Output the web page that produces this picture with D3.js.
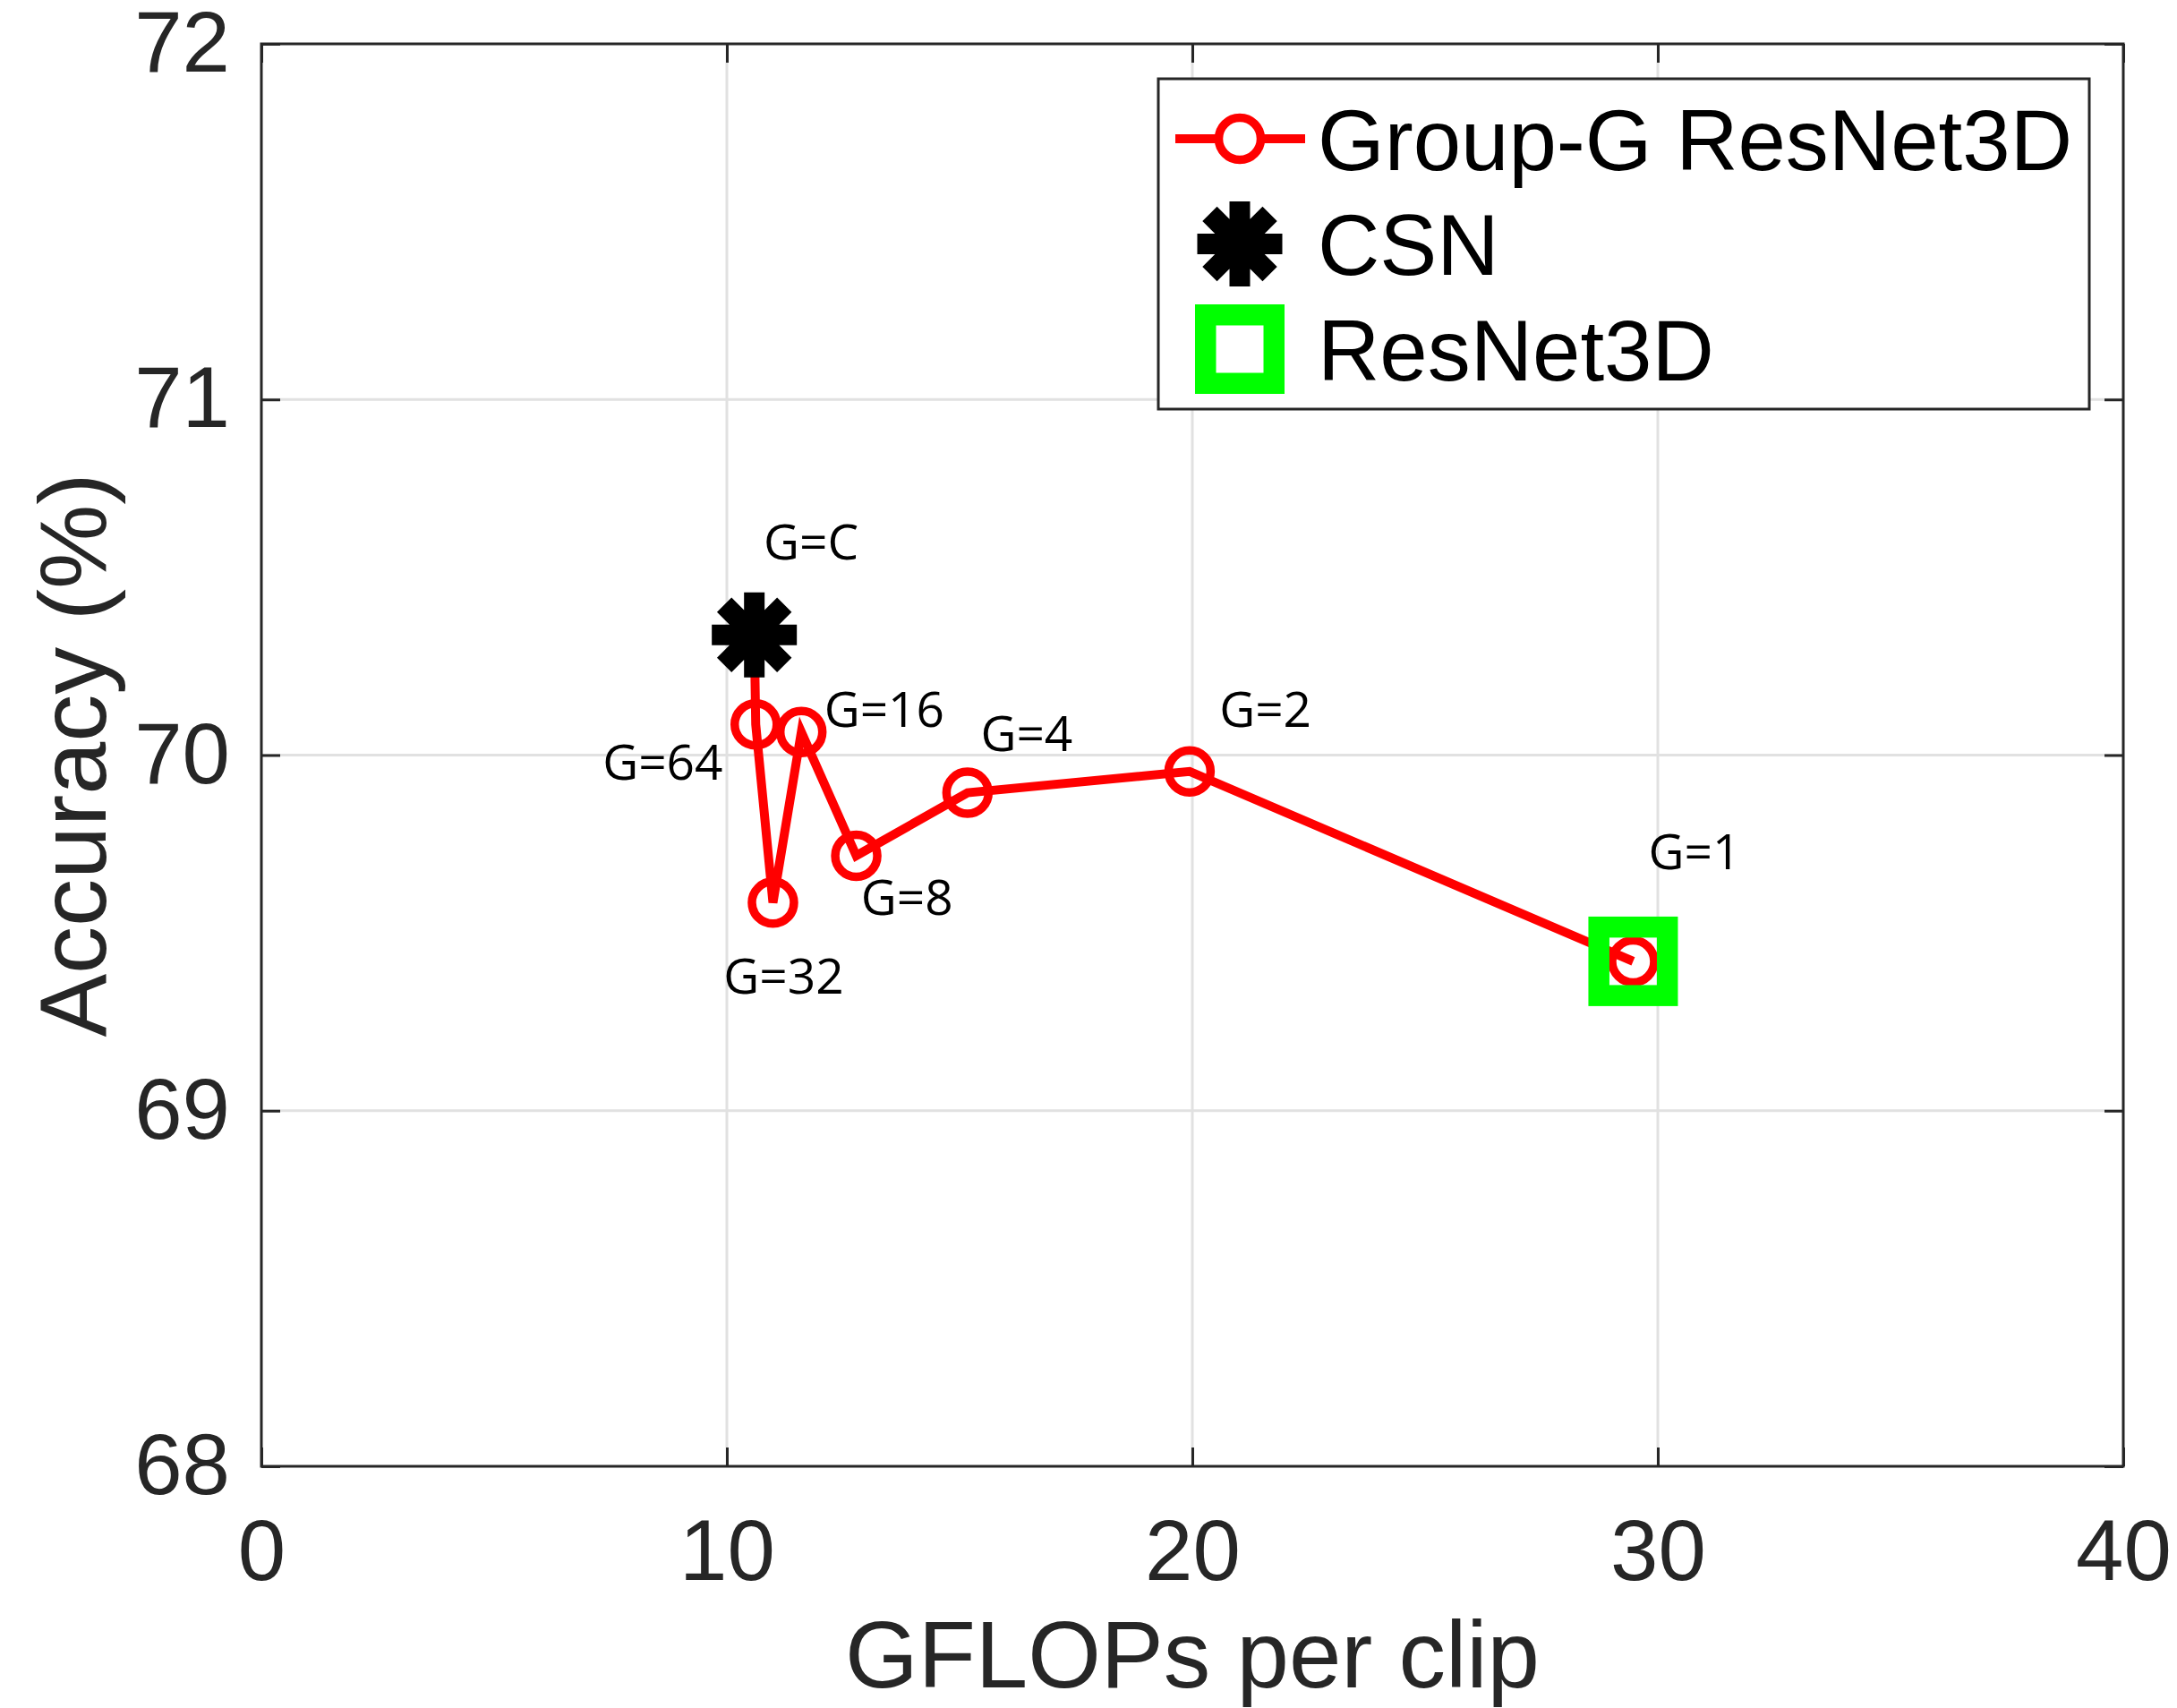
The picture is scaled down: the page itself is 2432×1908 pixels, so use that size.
<!DOCTYPE html>
<html><head><meta charset="utf-8">
<script src="https://cdn.jsdelivr.net/npm/d3@7"></script>
<style>
  html, body { margin: 0; background: #fff; }
  svg { display: block; }
</style>
</head><body>
<svg id="chart" width="2432" height="1908"></svg>
<script>
// Group-G ResNet3D sweep (G=C is the channel-separated end point)
const groupLabels = ["G=C", "G=64", "G=32", "G=16", "G=8", "G=4", "G=2", "G=1"];
const groupGflops = [10.59, 10.62, 10.99, 11.60, 12.78, 15.17, 19.94, 29.47];
const groupAcc    = [70.338, 70.086, 69.585, 70.065, 69.717, 69.894, 69.954, 69.420];
// reference models
const csnGflops = [10.59];
const csnAcc    = [70.338];
const resnetGflops = [29.47];
const resnetAcc    = [69.42];
// annotation anchors (left edge, vertical middle), data units
const labelGflops = [10.79, 7.33, 9.93, 12.09, 12.88, 15.45, 20.58, 29.80];
const labelAcc    = [70.60, 69.98, 69.38, 70.13, 69.60, 70.06, 70.13, 69.73];
// axes
const xTicks = [0, 10, 20, 30, 40];
const yTicks = [68, 69, 70, 71, 72];
const legendNames = ["Group-G ResNet3D", "CSN", "ResNet3D"];

const W = 2432, H = 1908;
const plot = { left: 292, top: 49, right: 2372, bottom: 1638 };
const RED = "#ff0000", GREEN = "#00ff00", INK = "#262626";
const tickFont = "'Liberation Sans', Arial, Helvetica, sans-serif";
const noteFont = "'Open Sans', 'Noto Sans', sans-serif";

const svg = d3.select("#chart");
svg.append("rect").attr("width", W).attr("height", H).attr("fill", "#fff");

const x = d3.scaleLinear().domain([0, 40]).range([plot.left, plot.right]);
const y = d3.scaleLinear().domain([68, 72]).range([plot.bottom, plot.top]);

// grid
const grid = svg.append("g").attr("stroke", "#e1e1e1").attr("stroke-width", 3);
grid.selectAll("line.gx").data(xTicks.slice(1, -1)).join("line")
  .attr("x1", d => x(d)).attr("x2", d => x(d))
  .attr("y1", plot.top).attr("y2", plot.bottom);
grid.selectAll("line.gy").data(yTicks.slice(1, -1)).join("line")
  .attr("y1", d => y(d)).attr("y2", d => y(d))
  .attr("x1", plot.left).attr("x2", plot.right);

// axes with inward ticks on all four sides
const tickLen = 21;
function styleAxis(g) {
  g.select(".domain").remove();
  g.selectAll(".tick line").attr("stroke", INK).attr("stroke-width", 3);
  g.selectAll(".tick text").attr("fill", INK)
    .style("font-family", tickFont).style("font-size", "96px");
}
svg.append("g").attr("transform", `translate(0,${plot.bottom})`)
  .call(d3.axisBottom(x).tickValues(xTicks).tickFormat(d3.format("d"))
        .tickSizeInner(-tickLen).tickSizeOuter(0).tickPadding(59))
  .call(styleAxis);
svg.append("g").attr("transform", `translate(0,${plot.top})`)
  .call(d3.axisTop(x).tickValues(xTicks).tickFormat("")
        .tickSizeInner(-tickLen).tickSizeOuter(0))
  .call(styleAxis);
svg.append("g").attr("transform", `translate(${plot.left},0)`)
  .call(d3.axisLeft(y).tickValues(yTicks).tickFormat(d3.format("d"))
        .tickSizeInner(-tickLen).tickSizeOuter(0).tickPadding(35))
  .call(styleAxis);
svg.append("g").attr("transform", `translate(${plot.right},0)`)
  .call(d3.axisRight(y).tickValues(yTicks).tickFormat("")
        .tickSizeInner(-tickLen).tickSizeOuter(0))
  .call(styleAxis);

// frame
svg.append("rect")
  .attr("x", plot.left).attr("y", plot.top)
  .attr("width", plot.right - plot.left).attr("height", plot.bottom - plot.top)
  .attr("fill", "none").attr("stroke", INK).attr("stroke-width", 3);

// axis titles
svg.append("text")
  .attr("x", (plot.left + plot.right) / 2).attr("y", 1885)
  .attr("text-anchor", "middle").attr("fill", INK)
  .style("font-family", tickFont).style("font-size", "105px")
  .text("GFLOPs per clip");
svg.append("text")
  .attr("transform", `translate(118,${(plot.top + plot.bottom) / 2}) rotate(-90)`)
  .attr("text-anchor", "middle").attr("fill", INK)
  .style("font-family", tickFont).style("font-size", "106px")
  .text("Accuracy (%)");

// markers
const circleR = 23.5, circleW = 9.5;
const starHalf = 47.5, starW = 23;
const squareSide = 76.5, squareW = 23.5;
function starPath(h) {
  const d = h / Math.SQRT2;
  return `M${-h},0H${h}M0,${-h}V${h}M${-d},${-d}L${d},${d}M${-d},${d}L${d},${-d}`;
}

const groupPts = groupGflops.map((g, i) => ({ g, a: groupAcc[i] }));
const line = d3.line().x(d => x(d.g)).y(d => y(d.a));
svg.append("path").datum(groupPts)
  .attr("d", line).attr("fill", "none")
  .attr("stroke", RED).attr("stroke-width", 10).attr("stroke-linejoin", "miter");
svg.append("g").selectAll("circle").data(groupPts).join("circle")
  .attr("cx", d => x(d.g)).attr("cy", d => y(d.a)).attr("r", circleR)
  .attr("fill", "none").attr("stroke", RED).attr("stroke-width", circleW);

svg.append("g").selectAll("path").data(csnGflops).join("path")
  .attr("transform", (d, i) => `translate(${x(d)},${y(csnAcc[i])})`)
  .attr("d", starPath(starHalf)).attr("stroke", "#000")
  .attr("stroke-width", starW).attr("stroke-linecap", "butt").attr("fill", "none");

svg.append("g").selectAll("rect").data(resnetGflops).join("rect")
  .attr("x", d => x(d) - squareSide / 2)
  .attr("y", (d, i) => y(resnetAcc[i]) - squareSide / 2)
  .attr("width", squareSide).attr("height", squareSide)
  .attr("fill", "none").attr("stroke", GREEN).attr("stroke-width", squareW);

// point annotations
svg.append("g").selectAll("text").data(groupLabels).join("text")
  .attr("x", (d, i) => x(labelGflops[i]))
  .attr("y", (d, i) => y(labelAcc[i]))
  .attr("dy", "0.36em").attr("fill", "#000")
  .style("font-family", noteFont).style("font-size", "55px")
  .text(d => d);

// legend
const lg = svg.append("g");
lg.append("rect").attr("x", 1294).attr("y", 88).attr("width", 1040).attr("height", 369)
  .attr("fill", "#fff").attr("stroke", INK).attr("stroke-width", 3);
const rowY = [155, 272.5, 390];
const symX = 1385;
lg.append("line").attr("x1", 1313).attr("x2", 1458).attr("y1", rowY[0]).attr("y2", rowY[0])
  .attr("stroke", RED).attr("stroke-width", 10);
lg.append("circle").attr("cx", symX).attr("cy", rowY[0]).attr("r", circleR)
  .attr("fill", "#fff").attr("stroke", RED).attr("stroke-width", circleW);
lg.append("path").attr("transform", `translate(${symX},${rowY[1]})`)
  .attr("d", starPath(starHalf)).attr("stroke", "#000").attr("stroke-width", starW).attr("fill", "none");
lg.append("rect").attr("x", symX - squareSide / 2).attr("y", rowY[2] - squareSide / 2)
  .attr("width", squareSide).attr("height", squareSide)
  .attr("fill", "none").attr("stroke", GREEN).attr("stroke-width", squareW);
lg.selectAll("text.lt").data(legendNames).join("text")
  .attr("x", 1472).attr("y", (d, i) => rowY[i]).attr("dy", "0.36em")
  .attr("fill", "#000")
  .style("font-family", tickFont).style("font-size", "96px")
  .text(d => d);
</script>
</body></html>
